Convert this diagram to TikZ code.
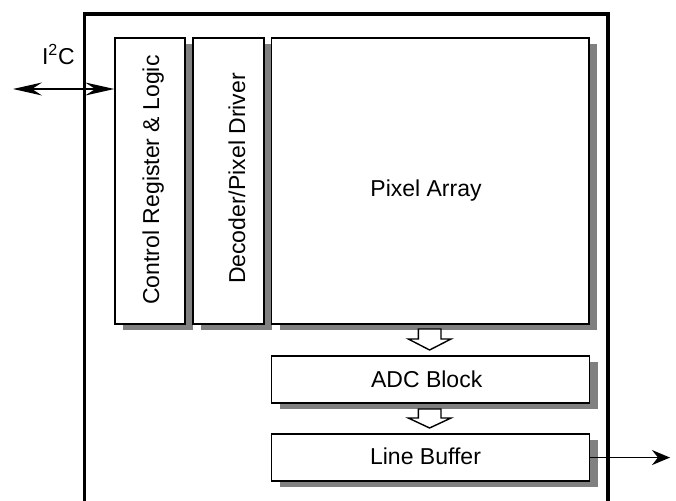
\documentclass[tikz,border=0pt]{standalone}
\usepackage{fontspec}
\setmainfont{Liberation Sans}
\usetikzlibrary{arrows.meta,shadows}
\definecolor{shadowgray}{RGB}{128,128,128}
\begin{document}
\begin{tikzpicture}[x=1pt,y=-1pt,
  blk/.style={draw, line width=1.8pt, fill=white, inner sep=0pt, anchor=north west,
    drop shadow={shadow xshift=8pt, shadow yshift=-6pt, fill=shadowgray, opacity=1}},
  txt/.style={font=\fontsize{23}{27}\selectfont, inner sep=0pt, anchor=base},
  conn/.style={line width=1.8pt},
  blockarrow/.style={draw, line width=1.4pt, fill=white, line join=miter}
]
\useasboundingbox (0,0) rectangle (676,500);
\clip (0,0) rectangle (676,500);
% outer frame
\draw[line width=3.4pt, line join=miter] (84.5,520) -- (84.5,14) -- (608,14) -- (608,520);
% blocks
\node[blk, minimum width=70pt, minimum height=286pt] (ctrl) at (114.3,37.3) {};
\node[blk, minimum width=70.4pt, minimum height=286pt] (dec) at (192.3,37.3) {};
\node[blk, minimum width=317.8pt, minimum height=286pt] (pix) at (270.6,37.3) {};
\node[blk, minimum width=318pt, minimum height=46.7pt] (adc) at (270.6,355) {};
\node[blk, minimum width=318pt, minimum height=46.7pt] (lb) at (270.6,433.3) {};
% texts
\node[txt, rotate=90] (ctrltxt) at (159,180) {Control Register \& Logic};
\node[txt, rotate=90] (dectxt) at (245,178.5) {Decoder/Pixel Driver};
\node[txt] (pixtxt) at (426,196.7) {Pixel Array};
\node[txt] (adctxt) at (426.7,387.7) {ADC Block};
\node[txt] (lbtxt) at (425.5,464) {Line Buffer};
\node[txt, anchor=base west] (i2c) at (42,65) {I\kern-0.3pt\textsuperscript{2}\kern0.5ptC};
% block arrows
\draw[blockarrow] (418.3,329) -- (441,329) -- (441,339) -- (451,339) -- (429.6,350) -- (408.3,339) -- (418.3,339) -- cycle;
\draw[blockarrow] (418.3,409) -- (441,409) -- (441,418) -- (451,418) -- (429.6,428) -- (408.3,418) -- (418.3,418) -- cycle;
% connectors
\coordinate (i2cend) at (13,89);
\coordinate (outend) at (670,456.7);
\draw[conn, {Stealth[length=29pt,width=13pt,inset=10pt]}-{Stealth[length=29pt,width=13pt,inset=10pt]}] (i2cend) -- (i2cend -| ctrl.west);
\draw[conn, -{Stealth[length=18pt,width=15pt,inset=6pt]}] (lb.east) -- (lb.east -| outend);
\end{tikzpicture}
\end{document}
